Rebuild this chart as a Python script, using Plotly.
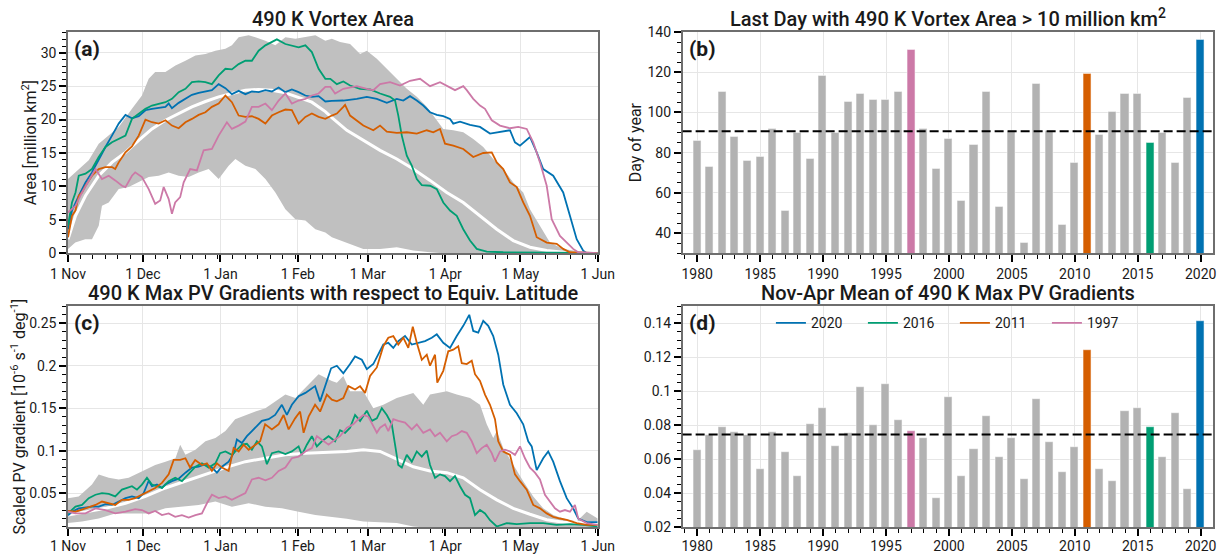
import plotly.graph_objects as go

# ---------------- Panel (a): 490 K vortex area [million km^2]; x = days since 1 Nov ----------------
A_2020 = [(0,3.6),(1.6,6.4),(4.3,8.6),(7,10.6),(9.6,12.1),(12.3,14.1),(15,15.9),(17.6,17.6),(20.3,19.4),(23,20.7),
          (25.6,20.2),(28.3,20.5),(31,21.4),(33.6,21.6),(36.3,21.7),(39,21.9),(40.3,22.4),(41.6,21.7),(44.3,22.5),
          (47,23.1),(49.6,23.7),(52.3,24.0),(55,24.2),(57.6,24.4),(60.3,25.3),(63,24.7),(65.6,23.8),(68.3,24.3),
          (71,23.8),(73.6,24.2),(76.3,24.1),(79,24.4),(81.6,24.2),(84.3,24.8),(87,24.1),(89.6,24.5),(92.3,24.1),
          (95,23.6),(97.6,23.4),(100.3,23.5),(103,22.7),(105.6,22.8),(110.2,22.85),(115.6,23.1),(119.6,23.4),
          (123.6,23.1),(127.6,22.5),(131.6,23.1),(134.2,22.85),(136.9,23.5),(139.6,22.85),(142.2,22.1),(144.9,21.1),
          (147.6,20.7),(150.2,20.5),(152.9,20.1),(154.2,19.4),(156.9,19.7),(160.9,19.2),(164.9,18.9),(168.9,17.9),
          (172.9,18.1),(176.9,18.4),(178.9,16.6),(180.9,16.1),(184.9,17.4),(187.6,15.1),(190.2,12.6),(194.2,11.6),
          (198.2,9.1),(200.9,5.6),(203.6,2.1),(206.2,0.4),(207.6,0.0),(212,0.0)]
A_2016 = [(0,4.1),(1.6,7.6),(3,9.1),(4.3,11.6),(7,11.9),(9.6,12.6),(12.3,14.4),(15,15.9),(17.6,16.6),(20.3,17.1),
          (23,17.6),(25.6,20.1),(28.3,20.9),(31,21.6),(33.6,22.1),(36.3,22.4),(39,22.6),(41.6,23.1),(44.3,24.1),
          (47,24.6),(49.6,25.6),(52.3,25.7),(55,25.6),(57.6,25.3),(60.3,26.6),(63,27.6),(65.6,27.5),(68.3,28.3),
          (71,28.8),(73.6,28.8),(76.3,30.3),(79,31.1),(81.6,31.6),(83.6,32.0),(87,31.3),(89.6,31.1),(92.3,30.8),
          (95,31.1),(97.6,30.1),(100.3,27.6),(103,26.1),(105,26.1),(107.6,25.3),(110.2,25.7),(112.9,25.1),
          (116.9,24.6),(120.9,24.5),(124.9,23.9),(128.9,23.4),(130.9,22.85),(132.2,20.6),(133.6,17.6),(135.6,14.6),
          (137.6,13.1),(139.6,11.1),(141.6,10.2),(144.9,10.1),(147.6,9.6),(150.2,7.6),(152.9,6.4),(155.6,5.6),
          (158.2,3.6),(160.9,1.9),(163.6,0.65),(167.6,0.25),(174.2,0.15),(184.9,0.1),(212,0.05)]
A_2011 = [(0,2.4),(1.6,5.6),(3,6.4),(4.3,8.6),(5.6,9.1),(7,10.1),(9.6,11.6),(12.3,12.6),(15,12.9),(17.6,12.9),
          (18.9,12.6),(20.3,13.6),(23,15.1),(25.6,16.0),(28.3,17.6),(31,20.0),(33.6,19.6),(36.3,19.4),(39,19.9),
          (41.6,19.1),(44.3,18.7),(47,19.6),(49.6,20.1),(52.3,20.7),(55,21.1),(57.6,21.9),(60.3,22.4),(63,23.6),
          (64.3,23.1),(65.6,22.6),(68.3,20.6),(71,20.4),(73.6,20.5),(76.3,20.1),(79,19.4),(81.6,20.6),(84.3,21.1),
          (87,21.5),(89.6,21.4),(92.3,19.4),(95,20.4),(97.6,20.9),(100.3,20.4),(103,20.1),(105.6,20.6),(107.6,20.9),
          (110.2,21.9),(110.9,22.2),(112.9,20.6),(115.6,19.9),(118.2,19.1),(122.2,18.4),(124.9,19.1),(127.6,18.2),
          (131.6,18.0),(135.6,18.1),(139.6,17.9),(143.6,18.4),(146.2,18.1),(148.9,18.6),(150.9,16.4),(154.2,16.1),
          (158.2,15.6),(162.2,14.4),(166.2,15.0),(169.6,15.1),(171.6,13.6),(174.2,12.6),(176.9,10.6),(179.6,9.9),
          (182.2,7.6),(184.9,5.6),(187.6,2.4),(191.6,1.6),(195.6,1.4),(198.2,0.65),(200.9,0.15),(212,0.0)]
A_1997 = [(0,6.1),(3,7.1),(5.6,9.1),(8.3,10.9),(11,12.6),(13.6,11.1),(16.3,11.6),(18.9,10.9),(21.6,10.1),(23,9.9),
          (25.6,11.6),(26.9,12.1),(29.6,11.4),(32.3,9.6),(34.9,7.4),(36.9,7.9),(38.3,9.9),(40.3,8.1),(41.6,5.9),
          (42.9,7.6),(44.9,8.4),(46.3,10.6),(48.9,12.6),(51.6,12.4),(54.3,15.4),(57.6,15.6),(60.3,17.6),(63.6,19.6),
          (65.6,18.6),(68.3,19.1),(71,19.7),(73.6,21.9),(76.3,21.9),(79,22.4),(81.6,21.4),(84.3,22.85),(87,23.9),
          (89.6,22.4),(92.3,22.85),(95,23.1),(97.6,23.6),(100.3,23.9),(103,24.9),(105,24.9),(106.9,23.9),(110.2,24.6),
          (115.6,25.0),(119.6,24.6),(122.2,24.4),(124.9,25.3),(128.9,25.6),(132.9,25.1),(136.9,25.8),(140.9,26.1),
          (144.9,25.0),(148.9,25.6),(151.6,25.1),(154.9,24.4),(158.2,25.0),(159.6,24.4),(162.2,23.1),(164.9,22.1),
          (166.9,21.6),(169.6,19.9),(172.9,19.1),(176.9,18.7),(180.2,18.9),(183.6,18.6),(186.2,16.6),(188.9,13.6),
          (191.6,10.1),(193.6,5.1),(196.9,2.6),(199.6,1.6),(202.2,0.65),(204.2,0.15),(212,0.0)]
A_MEAN = [(0,2.1),(3,5.6),(7,8.6),(12.3,11.6),(17.6,13.6),(23,15.1),(28.3,16.9),(33.6,18.6),(39,19.9),(44.3,20.9),
          (49.6,21.9),(55,22.7),(60.3,23.4),(65.6,23.9),(71,24.4),(76.3,24.5),(81.6,24.4),(87,24.0),(92.3,23.3),
          (97.6,22.6),(103,21.2),(105.6,20.3),(111.6,18.4),(118.2,16.9),(124.9,15.4),(131.6,14.1),(138.2,12.6),
          (144.9,10.9),(151.6,9.1),(158.2,7.6),(164.9,5.6),(171.6,3.6),(178.2,1.9),(184.9,0.9),(191.6,0.4),
          (198.2,0.15),(205,0.05),(212,0.0)]
A_MAX = [(0,11.1),(4.3,12.6),(8.3,13.9),(12.3,16.4),(16.3,17.6),(20.3,18.9),(25.6,21.6),(29.6,23.6),(32.3,26.1),
         (34.9,27.1),(39,27.1),(43,28.1),(47,28.8),(51,29.6),(55,29.8),(59,30.3),(63,30.6),(65.6,31.1),(68.3,32.3),
         (72.3,32.6),(75,32.3),(79,31.8),(83,31.1),(87,32.3),(91,32.1),(95,32.3),(99,32.6),(103,31.8),(105.6,32.1),
         (108.9,31.6),(112.9,31.3),(116.9,29.8),(119.6,30.3),(123.6,29.1),(127.6,27.6),(131.6,26.1),(135.6,24.6),
         (139.6,23.4),(143.6,21.9),(147.6,19.9),(150.2,18.6),(154.2,18.4),(158.2,18.1),(162.2,17.1),(166.2,15.9),
         (170.2,14.1),(174.2,12.6),(178.2,10.6),(182.2,9.1),(184.9,6.6),(187.6,4.9),(190.2,3.2),(192.9,1.6),
         (198.2,0.65),(204.9,0.25),(212,0.0)]
A_MIN = [(0,0.65),(2.9,1.6),(6.9,2.1),(9.6,2.1),(12.3,4.1),(13.6,7.1),(16.3,7.6),(20.3,9.6),(24.3,9.9),(28.3,10.6),
         (32.3,11.4),(36.3,11.6),(40.3,12.1),(44.3,11.6),(48.3,11.4),(52.3,12.1),(56.3,12.6),(60.3,11.1),(64.3,13.1),
         (67,14.1),(71,13.1),(75,12.6),(79,11.1),(83,9.1),(87,6.6),(91,5.1),(95,4.9),(99,3.6),(103,3.1),(105.6,2.4),
         (108.9,1.9),(112.9,1.4),(118.2,0.65),(124.9,0.65),(131.6,0.9),(138.2,0.4),(144.9,0.15),(150,0.0),(212,0.0)]

# ---------------- Panel (c): 490 K max PV gradients [1e-6 s^-1 deg^-1] ----------------
C_2020 = [(0,0.0236),(1.6,0.028),(4.3,0.032),(7,0.033),(9.6,0.034),(12.3,0.034),(15,0.037),(17.6,0.036),(20.3,0.040),
          (23,0.044),(25.6,0.046),(28.3,0.044),(30.3,0.050),(32.3,0.0645),(33.6,0.058),(35.6,0.060),(37.6,0.056),
          (39,0.060),(41.6,0.064),(44.3,0.067),(47,0.074),(49.6,0.080),(52.3,0.081),(55,0.084),(57.6,0.080),
          (59.6,0.074),(61.6,0.081),(64.3,0.087),(66.3,0.097),(67.6,0.113),(69.6,0.109),(71.6,0.117),(73.6,0.123),
          (75.6,0.129),(77.6,0.135),(80.3,0.137),(82.9,0.142),(85.6,0.154),(87.6,0.142),(89.6,0.154),(92.3,0.164),
          (95,0.168),(97.6,0.174),(98.9,0.176),(100.9,0.158),(102.9,0.176),(105.3,0.197),(107.6,0.200),(110.2,0.191),
          (112.9,0.202),(114.9,0.211),(117.6,0.207),(119.6,0.196),(122.2,0.202),(124.2,0.213),(126.2,0.225),
          (128.2,0.227),(130.2,0.221),(132.2,0.229),(134.9,0.235),(137.6,0.225),(140.2,0.227),(142.9,0.229),
          (145.6,0.233),(147.6,0.237),(150.2,0.227),(152.9,0.221),(155.6,0.235),(158.2,0.247),(160.6,0.260),
          (162.2,0.241),(164.2,0.239),(166.2,0.253),(168.2,0.247),(170.2,0.235),(172.2,0.213),(174.2,0.178),
          (176.9,0.154),(179.6,0.144),(182.2,0.131),(184.2,0.111),(185.6,0.105),(187.6,0.077),(190.2,0.091),
          (192.2,0.099),(194.2,0.087),(196.9,0.064),(199.6,0.044),(202.2,0.032),(204.2,0.020),(207.6,0.0157),
          (212,0.0157)]
C_2016 = [(0,0.026),(3,0.034),(5.6,0.036),(8.3,0.044),(11,0.048),(13.6,0.050),(16.3,0.049),(18.9,0.046),(21.6,0.054),
          (23.6,0.056),(25.6,0.058),(27.6,0.054),(29.6,0.060),(31.6,0.068),(33.6,0.060),(35.6,0.058),(37.6,0.056),
          (40.3,0.064),(42.9,0.068),(45.6,0.064),(48.3,0.072),(51,0.081),(53.6,0.085),(56.3,0.080),(59,0.085),
          (60.9,0.097),(63,0.099),(65.6,0.095),(67.6,0.101),(69.6,0.107),(71.6,0.108),(73.6,0.101),(75.6,0.111),
          (77.6,0.105),(79.6,0.084),(81.6,0.097),(84.3,0.099),(87,0.096),(89.6,0.099),(92.3,0.105),(93.6,0.095),
          (95.6,0.107),(97.6,0.117),(99.6,0.105),(101.6,0.111),(104.3,0.117),(106.9,0.111),(108.9,0.124),
          (110.9,0.121),(112.9,0.127),(114.9,0.142),(116.9,0.135),(119.6,0.147),(121.6,0.135),(123.6,0.138),
          (125.6,0.150),(127.6,0.142),(129.6,0.131),(130.9,0.107),(132.2,0.083),(133.6,0.080),(135.6,0.095),
          (137.6,0.087),(139.6,0.099),(141.6,0.093),(143.6,0.100),(144.9,0.083),(146.9,0.068),(148.9,0.072),
          (150.9,0.070),(152.9,0.064),(154.9,0.070),(156.9,0.058),(158.9,0.048),(160.9,0.044),(162.9,0.024),
          (164.9,0.030),(166.9,0.026),(168.9,0.018),(171.6,0.0106),(175.6,0.0146),(179.6,0.0134),(184.9,0.0146),
          (190.2,0.0146),(195.6,0.0126),(200.9,0.0134),(206.2,0.0126),(212,0.0106)]
C_2011 = [(0,0.029),(3,0.028),(7,0.032),(11,0.036),(13.6,0.040),(16.3,0.038),(18.9,0.036),(21.6,0.042),(24.3,0.042),
          (26.9,0.044),(29.6,0.048),(32.3,0.052),(34.9,0.056),(37.6,0.062),(40.3,0.072),(42.3,0.089),(44.9,0.089),
          (47,0.091),(48.9,0.080),(50.9,0.089),(53.6,0.083),(55.6,0.085),(57.6,0.076),(59.6,0.085),(61.6,0.080),
          (64.3,0.076),(66.3,0.103),(68.3,0.099),(70.3,0.107),(72.3,0.101),(74.3,0.105),(76.9,0.111),(78.9,0.131),
          (81.6,0.125),(84.3,0.131),(86.3,0.142),(88.3,0.125),(90.9,0.138),(92.9,0.146),(94.3,0.121),(96.3,0.140),
          (98.9,0.154),(100.9,0.146),(103.6,0.166),(105.6,0.160),(107.6,0.158),(110.2,0.162),(112.2,0.176),
          (114.9,0.172),(116.9,0.176),(118.9,0.168),(120.9,0.188),(123.6,0.198),(126.2,0.223),(128.2,0.233),
          (130.2,0.235),(132.2,0.225),(134.2,0.233),(136.2,0.221),(138,0.246),(139.6,0.227),(141.6,0.207),
          (143.6,0.213),(144.9,0.200),(146.9,0.213),(147.8,0.180),(150.2,0.194),(152.2,0.217),(154.2,0.219),
          (156.2,0.223),(157.6,0.203),(159.6,0.202),(161.6,0.206),(162.9,0.190),(164.9,0.182),(166.9,0.166),
          (168.9,0.154),(170.9,0.137),(172.2,0.111),(174.2,0.099),(176.9,0.095),(178.9,0.072),(180.9,0.064),
          (183.6,0.054),(186.2,0.036),(188.9,0.032),(191.6,0.026),(194.2,0.022),(196.9,0.020),(199.6,0.0185),
          (203.6,0.0146),(207.6,0.0126),(212,0.0126)]
C_1997 = [(0,0.028),(3,0.026),(7,0.026),(11,0.032),(15,0.030),(18.9,0.026),(23,0.028),(26.9,0.031),(29.6,0.030),
          (32.3,0.026),(34.9,0.029),(37.6,0.024),(40.3,0.026),(42.9,0.022),(45.6,0.024),(48.3,0.021),(51,0.024),
          (53.6,0.026),(55.6,0.038),(57.6,0.048),(60.3,0.044),(63,0.046),(65.6,0.042),(68.3,0.046),(71,0.050),
          (73.6,0.066),(76.3,0.068),(79,0.065),(81.6,0.068),(84.3,0.076),(87,0.080),(89.6,0.091),(92.3,0.093),
          (95,0.099),(97.6,0.103),(99.6,0.117),(101.6,0.113),(104.3,0.107),(106.9,0.113),(108.9,0.117),(111.6,0.127),
          (114.2,0.131),(116.2,0.137),(118.2,0.142),(120.2,0.140),(122.2,0.129),(123.6,0.121),(124.9,0.127),
          (126.9,0.131),(128.2,0.123),(130.2,0.137),(132.2,0.135),(134.9,0.133),(137.6,0.125),(139.6,0.131),
          (142.2,0.121),(144.9,0.125),(146.9,0.117),(148.9,0.121),(151.6,0.111),(153.6,0.117),(155.6,0.119),
          (157.6,0.123),(159.6,0.121),(161.6,0.111),(163.6,0.097),(165.6,0.103),(167.6,0.107),(169.6,0.097),
          (170.9,0.087),(172.9,0.099),(174.9,0.101),(176.9,0.099),(178.9,0.095),(180.9,0.105),(182.9,0.091),
          (184.9,0.080),(186.9,0.074),(188.9,0.066),(190.9,0.048),(192.9,0.040),(194.9,0.032),(196.9,0.028),
          (198.9,0.030),(200.9,0.028),(202.9,0.036),(204.2,0.020),(207.6,0.0146),(212,0.0126)]
C_MEAN = [(0,0.024),(7,0.028),(15,0.032),(23,0.038),(31,0.046),(39,0.056),(47,0.064),(55,0.072),(63,0.080),(71,0.087),
          (79,0.091),(87,0.095),(95,0.097),(105,0.098),(111.6,0.099),(118.2,0.101),(124.9,0.099),(131.6,0.090),
          (138.2,0.081),(144.9,0.076),(151.6,0.074),(158.2,0.068),(164.9,0.054),(171.6,0.042),(178.2,0.032),
          (184.9,0.025),(191.6,0.0185),(198.2,0.0157),(212,0.0146)]
C_MAX = [(0,0.044),(4.3,0.046),(9.6,0.060),(12.3,0.072),(16.3,0.068),(20.3,0.066),(24.3,0.068),(28.3,0.074),
         (32.3,0.080),(34.9,0.083),(39,0.087),(43,0.091),(44.9,0.107),(47,0.095),(51,0.101),(55,0.111),(59,0.115),
         (63,0.123),(66.9,0.137),(71,0.142),(75,0.146),(79,0.150),(83,0.158),(87,0.166),(91,0.162),(95,0.174),
         (100.3,0.190),(105.6,0.182),(107.6,0.180),(110.2,0.188),(112.9,0.170),(118.2,0.170),(122.2,0.150),
         (126.2,0.154),(131.6,0.162),(138.2,0.168),(142.2,0.154),(144.9,0.166),(151.6,0.170),(155.6,0.166),
         (160.9,0.162),(164.9,0.154),(167.6,0.131),(170.2,0.115),(171.6,0.123),(174.2,0.103),(178.2,0.083),
         (182.2,0.064),(186.2,0.046),(190.2,0.032),(194.2,0.024),(198.2,0.020),(203.6,0.0165),(207.6,0.028),
         (212,0.020)]
C_MIN = [(0,0.0146),(5.6,0.0165),(12.3,0.020),(18.9,0.026),(25.6,0.026),(32.3,0.026),(39,0.032),(45.6,0.034),
         (52.3,0.036),(59,0.040),(65.6,0.034),(72.3,0.038),(79,0.034),(85.6,0.032),(92.3,0.028),(99,0.024),
         (105.6,0.022),(111.6,0.0197),(118.2,0.0165),(124.9,0.0157),(131.6,0.0146),(138.2,0.0106),(145,0.009),
         (212,0.009)]

# ---------------- Panels (b) and (d): yearly bars ----------------
YEARS = list(range(1980, 2021))
LAST_DAY = [86, 73, 110, 88, 76, 78, 92, 51, 90, 77, 118, 90, 105, 109, 106, 106, 110, 131, 92, 72, 87,
            56, 84, 110, 53, 91, 35, 114, 91, 44, 75, 119, 89, 100, 109, 109, 85, 90, 75, 107, 136]
LAST_DAY_CLIM = 90.6
PVG_MEAN = [0.065, 0.074, 0.079, 0.076, 0.074, 0.054, 0.076, 0.064, 0.050, 0.0805, 0.090, 0.0675, 0.075, 0.1025,
            0.080, 0.104, 0.083, 0.0765, 0.072, 0.037, 0.0965, 0.050, 0.066, 0.085, 0.061, 0.072, 0.048, 0.095,
            0.070, 0.052, 0.067, 0.124, 0.054, 0.047, 0.088, 0.090, 0.0785, 0.061, 0.087, 0.042, 0.141]
PVG_CLIM = 0.0745

MONTH_DAYS = [0, 30, 61, 92, 120, 151, 181, 212]
MONTH_LABELS = ["1 Nov", "1 Dec", "1 Jan", "1 Feb", "1 Mar", "1 Apr", "1 May", "1 Jun"]
HIGHLIGHT_YEARS = ["2020", "2016", "2011", "1997"]

# ---------------- styling ----------------
COLORS = {"2020": "#0072B2", "2016": "#009E73", "2011": "#D55E00", "1997": "#CC79A7"}
BAND = "#C0C0C0"
BARC = "#B2B2B2"
FONT = "Roboto"
TXT = "#1a1a1a"

fig = go.Figure()


def split(pairs):
    return [p[0] for p in pairs], [p[1] for p in pairs]


def add_band(upper, lower, xa, ya):
    ux, uy = split(upper)
    lx, ly = split(lower)
    fig.add_trace(go.Scatter(x=ux + lx[::-1], y=uy + ly[::-1], fill="toself", fillcolor=BAND,
                             mode="lines", line=dict(width=0, color=BAND), hoverinfo="skip",
                             showlegend=False, xaxis=xa, yaxis=ya))


def add_line(pairs, color, width, xa, ya, name=None, legend=False):
    x, y = split(pairs)
    fig.add_trace(go.Scatter(x=x, y=y, mode="lines", line=dict(color=color, width=width),
                             name=name, showlegend=legend, xaxis=xa, yaxis=ya))


# panel (a)
add_band(A_MAX, A_MIN, "x", "y")
add_line(A_MEAN, "white", 3, "x", "y")
for yr, ser in zip(HIGHLIGHT_YEARS, [A_2020, A_2016, A_2011, A_1997]):
    add_line(ser, COLORS[yr], 1.8, "x", "y", name=yr, legend=True)

# panel (c)
add_band(C_MAX, C_MIN, "x3", "y3")
add_line(C_MEAN, "white", 3, "x3", "y3")
for yr, ser in zip(HIGHLIGHT_YEARS, [C_2020, C_2016, C_2011, C_1997]):
    add_line(ser, COLORS[yr], 1.8, "x3", "y3")

bar_colors = [COLORS.get(str(y), BARC) for y in YEARS]
for xa, ya, vals in [("x2", "y2", LAST_DAY), ("x4", "y4", PVG_MEAN)]:
    fig.add_trace(go.Bar(x=YEARS, y=vals, width=0.64, marker=dict(color=bar_colors,
                         line=dict(color="rgba(255,255,255,0.45)", width=1.2)),
                         showlegend=False, xaxis=xa, yaxis=ya))

# dashed climatology lines
for ref, val in [("2", LAST_DAY_CLIM), ("4", PVG_CLIM)]:
    fig.add_shape(type="line", xref="x%s domain" % ref, yref="y%s" % ref, x0=0, x1=1, y0=val, y1=val,
                  line=dict(color="black", width=2, dash="9px,4px"))

LX = [0, 0.4626]
RX = [0.5368, 1.0]
TY = [0.553, 1.0]
BY = [0.0, 0.4458]

base = dict(showline=True, linecolor="#6e6e6e", linewidth=1.5, mirror=True, ticks="outside",
            ticklen=7, tickwidth=2, tickcolor="black", showgrid=True, gridcolor="#E6E6E6", gridwidth=1,
            zeroline=False, automargin=False, tickfont=dict(family=FONT, size=14, color=TXT))
minor_days = []
for m0, m1 in zip(MONTH_DAYS[:-1], MONTH_DAYS[1:]):
    d = m0 + 5
    while d < m1:
        minor_days.append(d)
        d += 5

xtime = dict(base, range=[0, 212], tickmode="array", tickvals=MONTH_DAYS, ticktext=MONTH_LABELS,
             minor=dict(tickmode="array", tickvals=minor_days, ticks="outside", ticklen=4, tickwidth=1,
                        tickcolor="black", showgrid=False))
xyear = dict(base, range=[1978.84, 2020.98], tick0=1980, dtick=5,
             minor=dict(dtick=1, tick0=1980, ticks="outside", ticklen=4, tickwidth=1, tickcolor="black",
                        showgrid=False))

ytitle_font = dict(family=FONT, size=16, color=TXT)
fig.update_layout(
    width=1225, height=554, template="none",
    paper_bgcolor="white", plot_bgcolor="white",
    margin=dict(l=68, r=12, t=32, b=27),
    font=dict(family=FONT, size=14, color=TXT),
    bargap=0,
    xaxis=dict(xtime, domain=LX, anchor="y"),
    yaxis=dict(base, domain=TY, anchor="x", range=[0, 33.1], tick0=0, dtick=5,
               minor=dict(dtick=1, tick0=0, ticks="outside", ticklen=4, tickwidth=1, tickcolor="black"),
               title=dict(text="Area [million km<sup>2</sup>]", font=ytitle_font, standoff=0)),
    xaxis2=dict(xyear, domain=RX, anchor="y2"),
    yaxis2=dict(base, domain=TY, anchor="x2", range=[30, 140], tickmode="array",
                tickvals=[40, 60, 80, 100, 120, 140],
                minor=dict(dtick=5, tick0=0, ticks="outside", ticklen=4, tickwidth=1, tickcolor="black"),
                title=dict(text="Day of year", font=ytitle_font, standoff=2)),
    xaxis3=dict(xtime, domain=LX, anchor="y3", ticklabelstandoff=-2),
    yaxis3=dict(base, domain=BY, anchor="x3", range=[0.01, 0.27], tickmode="array",
                tickvals=[0.05, 0.1, 0.15, 0.2, 0.25], ticktext=["0.05", "0.1", "0.15", "0.2", "0.25"],
                minor=dict(dtick=0.01, tick0=0, ticks="outside", ticklen=4, tickwidth=1, tickcolor="black"),
                title=dict(text="Scaled PV gradient [10<sup>-6</sup> s<sup>-1</sup> deg<sup>-1</sup>]",
                           font=ytitle_font, standoff=0)),
    xaxis4=dict(xyear, domain=RX, anchor="y4", ticklabelstandoff=-2),
    yaxis4=dict(base, domain=BY, anchor="x4", range=[0.02, 0.15], tickmode="array",
                tickvals=[0.02, 0.04, 0.06, 0.08, 0.1, 0.12, 0.14],
                ticktext=["0.02", "0.04", "0.06", "0.08", "0.1", "0.12", "0.14"],
                minor=dict(dtick=0.005, tick0=0, ticks="outside", ticklen=4, tickwidth=1, tickcolor="black")),
    legend=dict(orientation="h", x=0.6139, y=0.444, xanchor="left", yanchor="top",
                bgcolor="rgba(0,0,0,0)", font=dict(family=FONT, size=14, color=TXT),
                entrywidth=47, entrywidthmode="pixels", traceorder="normal"),
)

titles = [
    ("x", "y", "490 K Vortex Area"),
    ("x2", "y2", "Last Day with 490 K Vortex Area > 10 million km<sup>2</sup>"),
    ("x3", "y3", "490 K Max PV Gradients with respect to Equiv. Latitude"),
    ("x4", "y4", "Nov-Apr Mean of 490 K Max PV Gradients"),
]
for xa, ya, t in titles:
    fig.add_annotation(text=t, xref="%s domain" % xa, yref="%s domain" % ya, x=0.5, y=1.0,
                       xanchor="center", yanchor="bottom", showarrow=False, yshift=-1,
                       font=dict(family=FONT, size=20, color=TXT, weight=500))
for (xa, ya), lab in zip([("x", "y"), ("x2", "y2"), ("x3", "y3"), ("x4", "y4")], ["(a)", "(b)", "(c)", "(d)"]):
    fig.add_annotation(text="<b>%s</b>" % lab, xref="%s domain" % xa, yref="%s domain" % ya, x=0, y=1,
                       xanchor="left", yanchor="top", xshift=4, yshift=-3, showarrow=False,
                       font=dict(family=FONT, size=21, color=TXT))

fig.write_html("out.html")
